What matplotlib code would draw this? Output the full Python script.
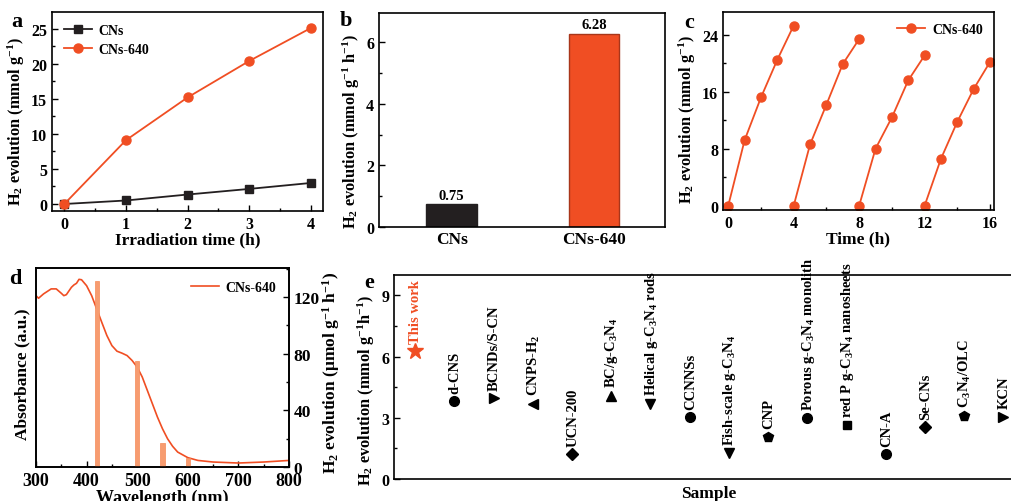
import matplotlib
matplotlib.use("Agg")
import matplotlib.pyplot as plt
from matplotlib.ticker import MultipleLocator

plt.rcParams['font.family'] = ['Liberation Serif', 'DejaVu Serif']
plt.rcParams['font.weight'] = 'bold'
plt.rcParams['axes.labelweight'] = 'bold'
plt.rcParams['mathtext.fontset'] = 'custom'
plt.rcParams['mathtext.rm'] = 'Liberation Serif:bold'
plt.rcParams['mathtext.it'] = 'Liberation Serif:bold'
plt.rcParams['mathtext.bf'] = 'Liberation Serif:bold'
plt.rcParams['mathtext.default'] = 'rm'
plt.rcParams['axes.linewidth'] = 1.2

ORANGE = '#F04E23'
BLACK = '#231F20'

# ---------------- data ----------------
# panel a
time_a = [0, 1, 2, 3, 4]
cns_a = [0, 0.5, 1.35, 2.15, 3.0]
cns640_a = [0, 9.1, 15.2, 20.4, 25.1]

# panel b
cats_b = ['CNs', 'CNs-640']
rates_b = [0.75, 6.28]

# panel c (four cycles)
time_c = [[0, 1, 2, 3, 4], [4, 5, 6, 7, 8], [8, 9, 10, 11, 12], [12, 13, 14, 15, 16]]
h2_c = [[0, 9.2, 15.2, 20.5, 25.3],
        [0, 8.6, 14.2, 19.9, 23.4],
        [0, 8.0, 12.4, 17.6, 21.1],
        [0, 6.6, 11.8, 16.4, 20.2]]

# panel d
wl_abs = [300, 305, 315, 330, 340, 350, 355, 360, 370, 375, 380, 385, 390, 400, 410,
          420, 430, 440, 450, 460, 470, 480, 490, 500, 510, 520, 530, 540, 550,
          560, 570, 580, 600, 620, 650, 700, 750, 800]
absorb = [0.861, 0.848, 0.870, 0.895, 0.895, 0.873, 0.861, 0.866, 0.903, 0.915, 0.923,
          0.943, 0.941, 0.911, 0.861, 0.794, 0.727, 0.661, 0.610, 0.582, 0.572, 0.560,
          0.535, 0.502, 0.452, 0.385, 0.318, 0.251, 0.192, 0.142, 0.104, 0.075, 0.047,
          0.033, 0.025, 0.020, 0.025, 0.033]
wl_bars = [420, 500, 550, 600]
h2_bars = [131.7, 75.2, 17.1, 6.6]

# panel e
samples_e = ['This work', 'd-CNS', 'BCNDs/S-CN', 'CNPS-H$_2$', 'UCN-200',
             'BC/g-C$_3$N$_4$', 'Helical g-C$_3$N$_4$ rods', 'CCNNSs',
             'Fish-scale g-C$_3$N$_4$', 'CNP', 'Porous g-C$_3$N$_4$ monolith',
             'red P g-C$_3$N$_4$ nanosheets', 'CN-A', 'Se-CNs', 'C$_3$N$_4$/OLC', 'KCN']
rates_e = [6.28, 3.8, 3.95, 3.7, 1.22, 4.08, 3.7, 3.02, 1.27, 2.08, 2.97, 2.65,
           1.22, 2.54, 3.1, 3.06]
markers_e = ['*', 'o', '>', '<', 'D', '^', 'v', 'o', 'v', 'p', 'o', 's', 'o', 'D', 'p', '>']

# ---------------- figure ----------------
W, H = 1011, 502
fig = plt.figure(figsize=(W / 100, H / 100), dpi=100)


def add_ax(l, t, r, b):
    return fig.add_axes([l / W, 1 - b / H, (r - l) / W, (b - t) / H])


def style(ax, right=False, size=11.5):
    ax.tick_params(which='both', direction='in', labelsize=size, width=1.0,
                   top=False, right=right, left=not right)
    ax.tick_params(which='major', length=4)
    ax.tick_params(which='minor', length=2.5)


LABEL_FS = 12.5
YLAB_FS = 11.8
LEG_FS = 10

# ---- a ----
ax = add_ax(52, 13, 323, 212)
ax.plot(time_a, cns_a, '-s', color=BLACK, ms=6, lw=1.3, label='CNs')
ax.plot(time_a, cns640_a, '-o', color=ORANGE, ms=6.5, lw=1.3, label='CNs-640')
ax.set_xlim(-0.2, 4.2)
ax.set_ylim(-1, 27.4)
ax.set_xticks([0, 1, 2, 3, 4])
ax.set_yticks([0, 5, 10, 15, 20, 25])
ax.xaxis.set_minor_locator(MultipleLocator(0.5))
ax.yaxis.set_minor_locator(MultipleLocator(2.5))
style(ax)
ax.set_xlabel('Irradiation time (h)', fontsize=LABEL_FS, labelpad=0)
ax.set_ylabel('H$_2$ evolution (mmol g$^{-1}$)', fontsize=YLAB_FS, labelpad=3, y=0.455)
ax.legend(loc='upper left', frameon=False, fontsize=LEG_FS, handlelength=2.0,
          borderaxespad=0.45, labelspacing=0.45, handletextpad=0.5)
fig.text(11 / W, 1 - 22 / H, 'a', fontsize=16, fontweight='bold', va='center')

# ---- b ----
ax = add_ax(379, 14, 665, 228)
ax.bar([0, 1], rates_b, width=0.355, color=[BLACK, ORANGE],
       edgecolor=[BLACK, '#A8361A'], linewidth=1.0)
for x, v in zip([0, 1], rates_b):
    ax.text(x, v + 0.07, f'{v:.2f}', ha='center', va='bottom', fontsize=10.5,
            fontweight='bold')
ax.set_xlim(-0.51, 1.5)
ax.set_ylim(0, 6.95)
ax.set_xticks([0, 1])
ax.set_xticklabels(cats_b, fontsize=LABEL_FS)
ax.set_yticks([0, 2, 4, 6])
ax.yaxis.set_minor_locator(MultipleLocator(1))
style(ax)
ax.tick_params(axis='x', length=0, labelsize=LABEL_FS, pad=3)
ax.set_ylabel('H$_2$ evolution (mmol g$^{-1}$ h$^{-1}$)', fontsize=YLAB_FS, labelpad=3,
              y=0.45)
fig.text(340 / W, 1 - 21 / H, 'b', fontsize=16, fontweight='bold', va='center')

# ---- c ----
ax = add_ax(723, 13, 994, 211)
for i, (tt, hh) in enumerate(zip(time_c, h2_c)):
    ax.plot(tt, hh, '-o', color=ORANGE, ms=6.5, lw=1.3,
            label='CNs-640' if i == 0 else None)
ax.set_xlim(-0.32, 16.24)
ax.set_ylim(-0.6, 27.2)
ax.set_xticks([0, 4, 8, 12, 16])
ax.set_yticks([0, 8, 16, 24])
ax.xaxis.set_minor_locator(MultipleLocator(2))
ax.yaxis.set_minor_locator(MultipleLocator(4))
style(ax)
ax.set_xlabel('Time (h)', fontsize=LABEL_FS, labelpad=0)
ax.set_ylabel('H$_2$ evolution (mmol g$^{-1}$)', fontsize=YLAB_FS, labelpad=3, y=0.46)
ax.legend(loc='upper right', frameon=False, fontsize=LEG_FS, handlelength=2.0,
          borderaxespad=0.4, handletextpad=0.5)
fig.text(684 / W, 1 - 23 / H, 'c', fontsize=16, fontweight='bold', va='center')

# ---- d ----
ax = add_ax(36, 269, 289, 468)
ax.plot(wl_abs, absorb, '-', color=ORANGE, lw=1.2, label='CNs-640')
ax.set_xlim(300, 800)
ax.set_ylim(0, 1)
ax.set_yticks([])
ax.set_xticks([300, 400, 500, 600, 700, 800])
ax.xaxis.set_minor_locator(MultipleLocator(50))
style(ax, size=13)
ax.set_xlabel('Wavelength (nm)', fontsize=LABEL_FS + 0.5, labelpad=0)
ax.set_ylabel('Absorbance (a.u.)', fontsize=LABEL_FS, labelpad=4, y=0.47)
ax.legend(loc='upper right', frameon=False, fontsize=LEG_FS, handlelength=2.0,
          borderaxespad=0.5, handletextpad=0.5)
ax2 = ax.twinx()
ax2.bar(wl_bars, h2_bars, width=8, color='#F79C70', edgecolor='#F58A58', linewidth=0.5)
ax2.set_ylim(0, 140.6)
ax2.set_yticks([0, 40, 80, 120])
ax2.yaxis.set_minor_locator(MultipleLocator(20))
style(ax2, right=True, size=12.5)
ax2.tick_params(which='both', left=False, labelleft=False)
ax2.set_ylabel('H$_2$ evolution (μmol g$^{-1}$ h$^{-1}$)', fontsize=LABEL_FS, labelpad=0,
               y=0.48)
fig.text(9 / W, 1 - 279 / H, 'd', fontsize=16, fontweight='bold', va='center')

# ---- e ----
ax = add_ax(394, 276, 1023, 480)
xs = list(range(len(samples_e)))
for x, v, m, lab in zip(xs, rates_e, markers_e, samples_e):
    c = ORANGE if x == 0 else 'black'
    ms = 12 if m == '*' else (6 if m in ('D', 's') else 7)
    ax.plot([x], [v], marker=m, color=c, ms=ms, ls='none')
    ax.annotate(lab, (x, v), xytext=(0.5, 6), textcoords='offset points',
                rotation=90, ha='center', va='bottom', fontsize=10.5,
                fontweight='bold', color=c)
ax.set_xlim(-0.54, 15.5)
ax.set_ylim(0, 10)
ax.set_xticks([])
ax.set_yticks([0, 3, 6, 9])
ax.yaxis.set_minor_locator(MultipleLocator(1.5))
style(ax)
ax.set_xlabel('Sample', fontsize=LABEL_FS, labelpad=4)
ax.set_ylabel('H$_2$ evolution (mmol g$^{-1}$h$^{-1}$)', fontsize=YLAB_FS, labelpad=3,
              y=0.44)
fig.text(364 / W, 1 - 283 / H, 'e', fontsize=16, fontweight='bold', va='center')

fig.savefig('out.png', dpi=100)
